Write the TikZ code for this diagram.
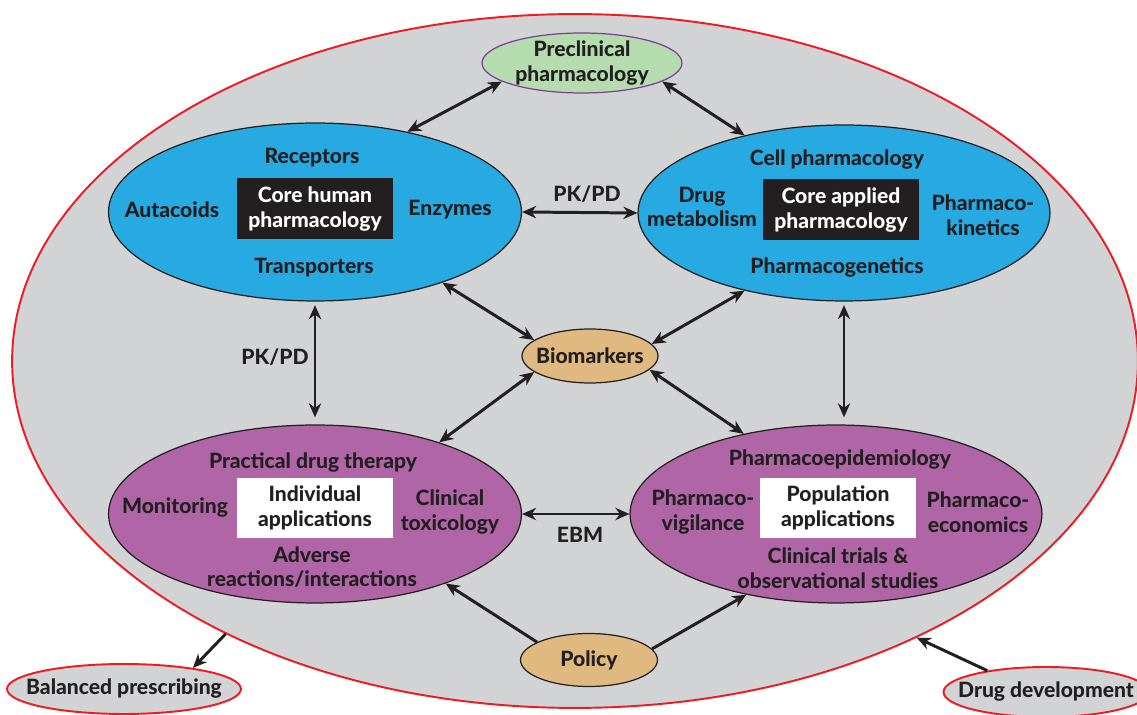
\documentclass[tikz,border=0pt]{standalone}
\usepackage{fontspec}
\setmainfont{Lato}[BoldFont={Lato Heavy}]
\usetikzlibrary{shapes.geometric,arrows.meta}

\definecolor{inkdark}{HTML}{231F20}
\definecolor{fieldgrey}{HTML}{D1D3D4}
\definecolor{fieldred}{HTML}{ED1C24}
\definecolor{coreblue}{HTML}{27AAE1}
\definecolor{appmauve}{HTML}{B066A6}
\definecolor{markertan}{HTML}{DFB97F}
\definecolor{preclingreen}{HTML}{B4DCAF}
\definecolor{preclinedge}{HTML}{7B3F98}

\begin{document}
\begin{tikzpicture}[x=0.02cm,y=-0.02cm,
		font=\fontsize{12}{14}\selectfont\bfseries, text=inkdark,
		oval/.style={ellipse,draw=inkdark,line width=0.7pt,inner sep=0pt},
		word/.style={align=center,inner sep=1pt},
		darkbox/.style={fill=inkdark,text=white,minimum width=3.12cm,minimum height=1.22cm,align=center,inner sep=0pt},
		lightbox/.style={fill=white,minimum width=3.12cm,minimum height=1.2cm,align=center,inner sep=0pt},
		link/.style={{Stealth[length=8pt,width=7pt]}-{Stealth[length=8pt,width=7pt]},line width=1.7pt,draw=inkdark},
		push/.style={-{Stealth[length=8pt,width=7pt]},line width=1.7pt,draw=inkdark}]
		\useasboundingbox (0,0) rectangle (1137,715);
		% the big field and the two things outside it
		\node[oval,draw=fieldred,line width=1.1pt,fill=fieldgrey,minimum width=22.52cm,minimum height=13.88cm] (field) at (575,361) {};
		\node[oval,draw=fieldred,line width=1.1pt,fill=fieldgrey,minimum width=4.68cm,minimum height=1cm] (bal) at (124,689) {};
		\node[word] (baltext) at (bal) {Balanced prescribing};
		\node[oval,draw=fieldred,line width=1.1pt,fill=fieldgrey,minimum width=4.1cm,minimum height=1cm] (dev) at (1046,692) {};
		\node[word] (devtext) at (dev) {Drug development};
		% preclinical, biomarkers, policy
		\node[oval,draw=preclinedge,fill=preclingreen,minimum width=4cm,minimum height=1.2cm] (pre) at (582,63) {};
		\node[word] (pretext) at (pre) {Preclinical\\pharmacology};
		\node[oval,fill=markertan,minimum width=2.72cm,minimum height=1.08cm] (bio) at (590,356) {};
		\node[word] (biotext) at (bio) {Biomarkers};
		\node[oval,fill=markertan,minimum width=2.74cm,minimum height=1.06cm] (pol) at (589,660) {};
		\node[word] (poltext) at (pol) {Policy};
		% core human pharmacology
		\node[oval,fill=coreblue,minimum width=8.26cm,minimum height=3.56cm] (hum) at (315,212) {};
		\node[darkbox] (humbox) at (315,209) {Core human\\pharmacology};
		\node[word] (recp) at (312,158) {Receptors};
		\node[word] (auta) at (172,210) {Autacoids};
		\node[word] (enzy) at (450,210) {Enzymes};
		\node[word] (tran) at (314,268) {Transporters};
		% core applied pharmacology
		\node[oval,fill=coreblue,minimum width=8.24cm,minimum height=3.52cm] (app) at (844,213) {};
		\node[darkbox] (appbox) at (841,210) {Core applied\\pharmacology};
		\node[word] (cell) at (837,160) {Cell pharmacology};
		\node[word] (dmet) at (702,207) {Drug\\metabolism};
		\node[word] (pkin) at (983,215) {Pharmaco-\\kinetics};
		\node[word] (pgen) at (837,268) {Pharmacogenetics};
		% individual applications
		\node[oval,fill=appmauve,minimum width=8.26cm,minimum height=3.56cm] (ind) at (315,514) {};
		\node[lightbox] (indbox) at (315,508) {Individual\\applications};
		\node[word] (prac) at (313,463) {Practical drug therapy};
		\node[word] (moni) at (175,508) {Monitoring};
		\node[word] (ctox) at (450,512) {Clinical\\toxicology};
		\node[word] (advr) at (312,567) {Adverse\\reactions/interactions};
		% population applications
		\node[oval,fill=appmauve,minimum width=8.24cm,minimum height=3.56cm] (pop) at (836,514) {};
		\node[lightbox] (popbox) at (838,508) {Population\\applications};
		\node[word] (pepi) at (840,460) {Pharmacoepidemiology};
		\node[word] (pvig) at (703,512) {Pharmaco-\\vigilance};
		\node[word] (peco) at (978,512) {Pharmaco-\\economics};
		\node[word] (ctri) at (838,568) {Clinical trials \&\\observational studies};
		% links to preclinical
		\draw[link] (pre.193) -- (hum.41);
		\draw[link] (pre.347) -- (app.142);
		% PK/PD and EBM
		\draw[link] (hum.east) -- (app.west);
		\node[word] (pkpdtop) at (587,194) {PK/PD};
		\draw[link,shorten <=2pt,shorten >=4pt] (hum.south) -- (hum.south |- ind.north);
		\node[word] (pkpdleft) at (275,357) {PK/PD};
		\draw[link,shorten <=2pt,shorten >=4pt] (app.south) -- (app.south |- pop.north);
		\draw[link] (ind.east) -- (pop.west);
		\node[word] (ebm) at (580,535) {EBM};
		% biomarkers in the middle
		\draw[link] (hum.331) -- (bio.164);
		\draw[link] (app.218) -- (bio.11);
		\draw[link] (bio.196) -- (ind.30);
		\draw[link] (bio.347) -- (pop.139);
		% policy
		\draw[push] (pol.161) -- (ind.332);
		\draw[push] (pol.10) -- (pop.222);
		% out of the field and into it
		\draw[push] (field.218) -- (bal.17);
		\draw[push] (dev.160) -- (field.321);
	\end{tikzpicture}
\end{document}
